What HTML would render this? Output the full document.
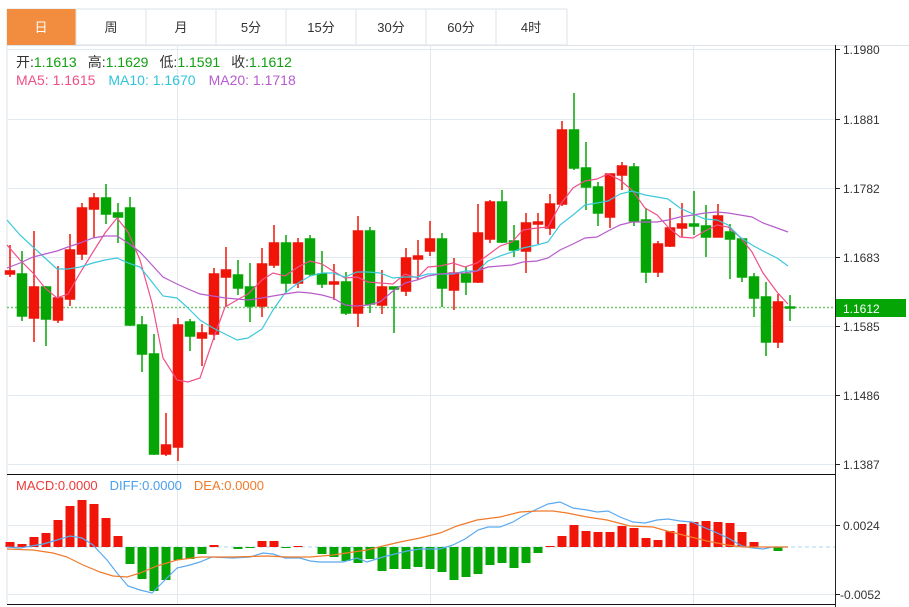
<!DOCTYPE html>
<html><head><meta charset="utf-8"><style>
body{margin:0;width:909px;height:607px;background:#fff;overflow:hidden;font-family:"Liberation Sans","Noto Sans CJK SC",sans-serif}
svg{position:absolute;left:0;top:0}
.t{font-family:"Liberation Sans","Noto Sans CJK SC",sans-serif}
</style></head><body>
<svg width="909" height="607" viewBox="0 0 909 607" xmlns="http://www.w3.org/2000/svg">
<rect x="7" y="9" width="560" height="36" fill="#fff" stroke="#dde3e8"/>
<rect x="7" y="9" width="69" height="36" fill="#f28c3e"/>
<g stroke="#dde3e8"><line x1="146" y1="9" x2="146" y2="45"/><line x1="216" y1="9" x2="216" y2="45"/><line x1="286" y1="9" x2="286" y2="45"/><line x1="356" y1="9" x2="356" y2="45"/><line x1="426" y1="9" x2="426" y2="45"/><line x1="496" y1="9" x2="496" y2="45"/><line x1="76" y1="9" x2="76" y2="45"/></g>
<g class="t" font-size="13" text-anchor="middle" fill="#333">
<text x="41" y="32" fill="#fff">日</text><text x="111" y="32">周</text><text x="181" y="32">月</text><text x="251" y="32">5分</text><text x="321" y="32">15分</text><text x="391" y="32">30分</text><text x="461" y="32">60分</text><text x="531" y="32">4时</text></g>
<line x1="7" y1="45.5" x2="909" y2="45.5" stroke="#dde3e8"/>
<line x1="7" y1="45" x2="7" y2="604" stroke="#dde3e8"/>
<g stroke="#e3eaef" stroke-width="1">
<line x1="7" y1="49.5" x2="835" y2="49.5"/><line x1="7" y1="119.5" x2="835" y2="119.5"/><line x1="7" y1="188.5" x2="835" y2="188.5"/><line x1="7" y1="257.5" x2="835" y2="257.5"/><line x1="7" y1="326.5" x2="835" y2="326.5"/><line x1="7" y1="395.5" x2="835" y2="395.5"/><line x1="7" y1="464.5" x2="835" y2="464.5"/>
<line x1="177.5" y1="45" x2="177.5" y2="604"/><line x1="430.5" y1="45" x2="430.5" y2="604"/><line x1="693.5" y1="45" x2="693.5" y2="604"/>
<line x1="7" y1="525.5" x2="835" y2="525.5"/><line x1="7" y1="594.5" x2="835" y2="594.5"/>
</g>
<line x1="7" y1="474.5" x2="835" y2="474.5" stroke="#111"/>
<line x1="7" y1="604.5" x2="835" y2="604.5" stroke="#111"/>
<line x1="835.5" y1="45" x2="835.5" y2="607" stroke="#222"/>
<g class="t" font-size="12" fill="#333" stroke="none">
<text x="843" y="54">1.1980</text><text x="843" y="124">1.1881</text><text x="843" y="193">1.1782</text><text x="843" y="262">1.1683</text><text x="843" y="331">1.1585</text><text x="843" y="400">1.1486</text><text x="843" y="469">1.1387</text>
<text x="843" y="530">0.0024</text><text x="840" y="599">-0.0052</text></g>
<g stroke="#222"><line x1="835" y1="49.5" x2="840" y2="49.5"/><line x1="835" y1="119.5" x2="840" y2="119.5"/><line x1="835" y1="188.5" x2="840" y2="188.5"/><line x1="835" y1="257.5" x2="840" y2="257.5"/><line x1="835" y1="326.5" x2="840" y2="326.5"/><line x1="835" y1="395.5" x2="840" y2="395.5"/><line x1="835" y1="464.5" x2="840" y2="464.5"/><line x1="835" y1="525.5" x2="840" y2="525.5"/><line x1="835" y1="594.5" x2="840" y2="594.5"/></g>
<line x1="7" y1="307.5" x2="835" y2="307.5" stroke="#6cc96c" stroke-dasharray="2,2" stroke-width="1.5"/>
<rect x="836" y="299" width="70" height="18" fill="#06a506"/>
<text class="t" x="843" y="313" font-size="12" fill="#fff">1.1612</text>
<g fill="#f01508" stroke="#f01508" stroke-width="1.5">
<line x1="10" y1="245" x2="10" y2="277"/><rect x="5.5" y="271" width="9" height="3"/>
<line x1="34" y1="231" x2="34" y2="342"/><rect x="29.5" y="287" width="9" height="31"/>
<line x1="58" y1="266" x2="58" y2="323"/><rect x="53.5" y="298" width="9" height="22"/>
<line x1="70" y1="234" x2="70" y2="306"/><rect x="65.5" y="250" width="9" height="49"/>
<line x1="82" y1="203" x2="82" y2="260"/><rect x="77.5" y="208" width="9" height="46"/>
<line x1="94" y1="193" x2="94" y2="238"/><rect x="89.5" y="198" width="9" height="11"/>
<line x1="166" y1="413" x2="166" y2="456"/><rect x="161.5" y="445" width="9" height="9"/>
<line x1="178" y1="318" x2="178" y2="461"/><rect x="173.5" y="325" width="9" height="122"/>
<line x1="202" y1="324" x2="202" y2="366"/><rect x="197.5" y="333" width="9" height="5"/>
<line x1="214" y1="268" x2="214" y2="340"/><rect x="209.5" y="274" width="9" height="60"/>
<line x1="226" y1="247" x2="226" y2="307"/><rect x="221.5" y="270" width="9" height="7"/>
<line x1="262" y1="248" x2="262" y2="317"/><rect x="257.5" y="264" width="9" height="42"/>
<line x1="274" y1="225" x2="274" y2="268"/><rect x="269.5" y="243" width="9" height="22"/>
<line x1="298" y1="238" x2="298" y2="288"/><rect x="293.5" y="243" width="9" height="40"/>
<line x1="334" y1="264" x2="334" y2="300"/><rect x="329.5" y="282" width="9" height="2"/>
<line x1="358" y1="216" x2="358" y2="327"/><rect x="353.5" y="231" width="9" height="82"/>
<line x1="382" y1="270" x2="382" y2="314"/><rect x="377.5" y="287" width="9" height="18"/>
<line x1="406" y1="248" x2="406" y2="296"/><rect x="401.5" y="258" width="9" height="33"/>
<line x1="418" y1="240" x2="418" y2="280"/><rect x="413.5" y="256" width="9" height="3"/>
<line x1="430" y1="221" x2="430" y2="256"/><rect x="425.5" y="239" width="9" height="12"/>
<line x1="454" y1="258" x2="454" y2="310"/><rect x="449.5" y="273" width="9" height="17"/>
<line x1="478" y1="204" x2="478" y2="283"/><rect x="473.5" y="233" width="9" height="49"/>
<line x1="490" y1="200" x2="490" y2="243"/><rect x="485.5" y="202" width="9" height="37"/>
<line x1="526" y1="213" x2="526" y2="273"/><rect x="521.5" y="223" width="9" height="28"/>
<line x1="538" y1="213" x2="538" y2="244"/><rect x="533.5" y="222" width="9" height="2"/>
<line x1="550" y1="194" x2="550" y2="235"/><rect x="545.5" y="204" width="9" height="24"/>
<line x1="562" y1="121" x2="562" y2="206"/><rect x="557.5" y="130" width="9" height="74"/>
<line x1="610" y1="174" x2="610" y2="228"/><rect x="605.5" y="174" width="9" height="43"/>
<line x1="622" y1="162" x2="622" y2="190"/><rect x="617.5" y="166" width="9" height="9"/>
<line x1="658" y1="241" x2="658" y2="277"/><rect x="653.5" y="244" width="9" height="28"/>
<line x1="670" y1="208" x2="670" y2="247"/><rect x="665.5" y="228" width="9" height="18"/>
<line x1="682" y1="203" x2="682" y2="237"/><rect x="677.5" y="224" width="9" height="4"/>
<line x1="718" y1="204" x2="718" y2="237"/><rect x="713.5" y="216" width="9" height="21"/>
<line x1="778" y1="294" x2="778" y2="348"/><rect x="773.5" y="302" width="9" height="40"/>
</g>
<g fill="#05a505" stroke="#05a505" stroke-width="1.5">
<line x1="22" y1="251" x2="22" y2="321"/><rect x="17.5" y="274" width="9" height="42"/>
<line x1="46" y1="286" x2="46" y2="346"/><rect x="41.5" y="287" width="9" height="32"/>
<line x1="106" y1="184" x2="106" y2="224"/><rect x="101.5" y="198" width="9" height="16"/>
<line x1="118" y1="203" x2="118" y2="243"/><rect x="113.5" y="213" width="9" height="4"/>
<line x1="130" y1="197" x2="130" y2="326"/><rect x="125.5" y="208" width="9" height="117"/>
<line x1="142" y1="316" x2="142" y2="372"/><rect x="137.5" y="325" width="9" height="29"/>
<line x1="154" y1="334" x2="154" y2="455"/><rect x="149.5" y="354" width="9" height="100"/>
<line x1="190" y1="319" x2="190" y2="351"/><rect x="185.5" y="322" width="9" height="14"/>
<line x1="238" y1="260" x2="238" y2="295"/><rect x="233.5" y="275" width="9" height="13"/>
<line x1="250" y1="263" x2="250" y2="322"/><rect x="245.5" y="287" width="9" height="19"/>
<line x1="286" y1="235" x2="286" y2="293"/><rect x="281.5" y="243" width="9" height="40"/>
<line x1="310" y1="235" x2="310" y2="276"/><rect x="305.5" y="239" width="9" height="35"/>
<line x1="322" y1="251" x2="322" y2="288"/><rect x="317.5" y="274" width="9" height="10"/>
<line x1="346" y1="272" x2="346" y2="315"/><rect x="341.5" y="282" width="9" height="31"/>
<line x1="370" y1="227" x2="370" y2="313"/><rect x="365.5" y="231" width="9" height="73"/>
<line x1="394" y1="287" x2="394" y2="333"/><rect x="389.5" y="287" width="9" height="2"/>
<line x1="442" y1="233" x2="442" y2="307"/><rect x="437.5" y="239" width="9" height="49"/>
<line x1="466" y1="267" x2="466" y2="295"/><rect x="461.5" y="274" width="9" height="8"/>
<line x1="502" y1="190" x2="502" y2="243"/><rect x="497.5" y="202" width="9" height="40"/>
<line x1="514" y1="225" x2="514" y2="257"/><rect x="509.5" y="241" width="9" height="9"/>
<line x1="574" y1="93" x2="574" y2="170"/><rect x="569.5" y="130" width="9" height="38"/>
<line x1="586" y1="142" x2="586" y2="210"/><rect x="581.5" y="168" width="9" height="19"/>
<line x1="598" y1="182" x2="598" y2="226"/><rect x="593.5" y="187" width="9" height="26"/>
<line x1="634" y1="163" x2="634" y2="226"/><rect x="629.5" y="167" width="9" height="54"/>
<line x1="646" y1="208" x2="646" y2="283"/><rect x="641.5" y="220" width="9" height="52"/>
<line x1="694" y1="191" x2="694" y2="235"/><rect x="689.5" y="224" width="9" height="2"/>
<line x1="706" y1="205" x2="706" y2="257"/><rect x="701.5" y="226" width="9" height="11"/>
<line x1="730" y1="224" x2="730" y2="279"/><rect x="725.5" y="232" width="9" height="7"/>
<line x1="742" y1="239" x2="742" y2="282"/><rect x="737.5" y="239" width="9" height="38"/>
<line x1="754" y1="273" x2="754" y2="317"/><rect x="749.5" y="277" width="9" height="21"/>
<line x1="766" y1="282" x2="766" y2="356"/><rect x="761.5" y="297" width="9" height="45"/>
<line x1="790" y1="295" x2="790" y2="321"/><rect x="785.5" y="307" width="9" height="1"/>
</g>
<g fill="none" stroke-width="1.2">
<polyline stroke="#f0508a" points="7,245 20,260 33,273 45,288 57,298 68,294 80,273 93,252 105,233 117,218 128,232 140,260 152,303 163,358 177,380 188,382 200,378 213,340 225,307 237,300 248,294 262,280 273,273 285,276 298,267 310,261 322,264 333,271 345,278 357,277 368,282 380,283 393,284 405,274 417,278 428,267 440,266 453,263 465,267 477,263 488,255 500,246 512,242 523,230 537,228 548,227 560,205 573,188 585,181 597,179 608,174 620,180 632,190 645,208 657,215 668,227 680,237 693,238 705,231 717,225 728,227 740,237 752,252 763,273 777,292 788,304"/>
<polyline stroke="#3cc8dc" points="7,220 20,235 33,247 45,258 57,269 68,269 80,267 93,263 105,260 117,258 128,263 140,267 152,282 163,296 177,298 188,308 200,320 213,328 225,334 237,340 248,338 262,329 273,310 285,293 298,283 310,276 322,273 333,273 345,277 357,272 368,272 380,273 393,278 405,277 417,277 428,274 440,274 453,274 465,271 477,271 488,261 500,256 512,252 523,248 537,245 548,242 560,225 573,215 585,205 597,203 608,201 620,194 632,191 645,195 657,197 668,199 680,208 693,214 705,219 717,220 728,225 740,237 752,245 763,251 777,258 788,266"/>
<polyline stroke="#b85ccc" points="7,268 20,263 33,257 45,254 57,251 68,247 80,243 93,238 105,236 117,236 128,243 140,252 152,265 163,277 177,284 188,289 200,294 213,296 225,298 237,299 248,300 262,298 273,296 285,294 298,292 310,293 322,295 333,298 345,305 357,306 368,305 380,302 393,291 405,283 417,280 428,276 440,274 453,273 465,273 477,271 488,267 500,266 512,265 523,262 537,261 548,258 560,250 573,244 585,238 597,237 608,231 620,225 632,222 645,222 657,222 668,220 680,217 693,215 705,213 717,212 728,213 740,215 752,217 763,223 777,228 788,232"/>
</g>
<text class="t" x="16" y="67" font-size="14"><tspan fill="#333">开:</tspan><tspan fill="#10a010">1.1613</tspan><tspan fill="#333" dx="11">高:</tspan><tspan fill="#10a010">1.1629</tspan><tspan fill="#333" dx="11">低:</tspan><tspan fill="#10a010">1.1591</tspan><tspan fill="#333" dx="11">收:</tspan><tspan fill="#10a010">1.1612</tspan></text>
<text class="t" x="16" y="85" font-size="14"><tspan fill="#ef4f86">MA5: 1.1615</tspan><tspan fill="#30c4dc" dx="13">MA10: 1.1670</tspan><tspan fill="#b65ccc" dx="13">MA20: 1.1718</tspan></text>
<text class="t" x="16" y="490" font-size="13"><tspan fill="#ee3a3a">MACD:0.0000</tspan><tspan fill="#4aa0ee" dx="12">DIFF:0.0000</tspan><tspan fill="#f07a2a" dx="12">DEA:0.0000</tspan></text>
<line x1="7" y1="547" x2="835" y2="547" stroke="#a8d8ee" stroke-dasharray="4,3"/>
<g fill="#f01508">
<rect x="5.5" y="542" width="9" height="5"/><rect x="17.5" y="544" width="9" height="3"/><rect x="29.5" y="537" width="9" height="10"/><rect x="41.5" y="533" width="9" height="14"/><rect x="53.5" y="520" width="9" height="27"/><rect x="65.5" y="506" width="9" height="41"/><rect x="77.5" y="500" width="9" height="47"/><rect x="89.5" y="504" width="9" height="43"/><rect x="101.5" y="518" width="9" height="29"/><rect x="113.5" y="536" width="9" height="11"/>
<rect x="209.5" y="545" width="9" height="2"/><rect x="257.5" y="541" width="9" height="6"/><rect x="269.5" y="541" width="9" height="6"/><rect x="293.5" y="546" width="9" height="1"/>
<rect x="545.5" y="546" width="9" height="1"/><rect x="557.5" y="536" width="9" height="11"/><rect x="569.5" y="525" width="9" height="22"/><rect x="581.5" y="531" width="9" height="16"/><rect x="593.5" y="532" width="9" height="15"/><rect x="605.5" y="532" width="9" height="15"/><rect x="617.5" y="526" width="9" height="21"/><rect x="629.5" y="528" width="9" height="19"/><rect x="641.5" y="538" width="9" height="9"/><rect x="653.5" y="540" width="9" height="7"/><rect x="665.5" y="531" width="9" height="16"/><rect x="677.5" y="524" width="9" height="23"/><rect x="689.5" y="522" width="9" height="25"/><rect x="701.5" y="521" width="9" height="26"/><rect x="713.5" y="522" width="9" height="25"/><rect x="725.5" y="523" width="9" height="24"/><rect x="737.5" y="532" width="9" height="15"/><rect x="749.5" y="542" width="9" height="5"/>
</g>
<g fill="#05a505">
<rect x="125.5" y="547" width="9" height="17"/><rect x="137.5" y="547" width="9" height="32"/><rect x="149.5" y="547" width="9" height="44"/><rect x="161.5" y="547" width="9" height="33"/><rect x="173.5" y="547" width="9" height="13"/><rect x="185.5" y="547" width="9" height="12"/><rect x="197.5" y="547" width="9" height="7"/>
<rect x="233.5" y="547" width="9" height="2"/><rect x="245.5" y="547" width="9" height="1"/><rect x="281.5" y="547" width="9" height="1"/>
<rect x="317.5" y="547" width="9" height="7"/><rect x="329.5" y="547" width="9" height="10"/><rect x="341.5" y="547" width="9" height="14"/><rect x="353.5" y="547" width="9" height="16"/><rect x="365.5" y="547" width="9" height="12"/><rect x="377.5" y="547" width="9" height="24"/><rect x="389.5" y="547" width="9" height="22"/><rect x="401.5" y="547" width="9" height="22"/><rect x="413.5" y="547" width="9" height="20"/><rect x="425.5" y="547" width="9" height="22"/><rect x="437.5" y="547" width="9" height="25"/><rect x="449.5" y="547" width="9" height="33"/><rect x="461.5" y="547" width="9" height="30"/><rect x="473.5" y="547" width="9" height="27"/><rect x="485.5" y="547" width="9" height="18"/><rect x="497.5" y="547" width="9" height="16"/><rect x="509.5" y="547" width="9" height="21"/><rect x="521.5" y="547" width="9" height="16"/><rect x="533.5" y="547" width="9" height="6"/>
<rect x="773.5" y="547" width="9" height="4"/>
</g>
<g fill="none" stroke-width="1.2">
<polyline stroke="#5aaaf0" points="7,547 20,548 43,544 57,540 70,536 82,538 93,545 107,560 117,573 128,586 140,590 152,593 163,582 177,568 190,565 200,562 212,557 233,558 250,557 263,553 273,554 285,558 300,558 310,561 320,562 343,562 357,558 367,562 383,557 407,551 420,549 440,549 453,545 465,539 478,530 488,527 500,527 513,522 523,516 537,509 548,504 560,502 573,508 587,510 597,512 608,511 620,517 633,522 645,523 657,520 668,519 680,521 692,522 703,527 715,532 728,538 742,546 753,548 763,549 773,547 788,547"/>
<polyline stroke="#f07a2a" points="7,549 33,550 53,553 67,557 83,565 100,572 113,576 127,577 140,573 157,566 177,560 200,557 233,557 267,556 287,557 310,557 333,555 367,550 383,546 400,542 420,538 440,533 457,526 477,520 500,517 520,512 537,511 553,511 567,513 587,517 607,520 630,526 653,527 667,531 687,536 707,541 727,545 743,547 788,547"/>
</g>
</svg>
</body></html>
